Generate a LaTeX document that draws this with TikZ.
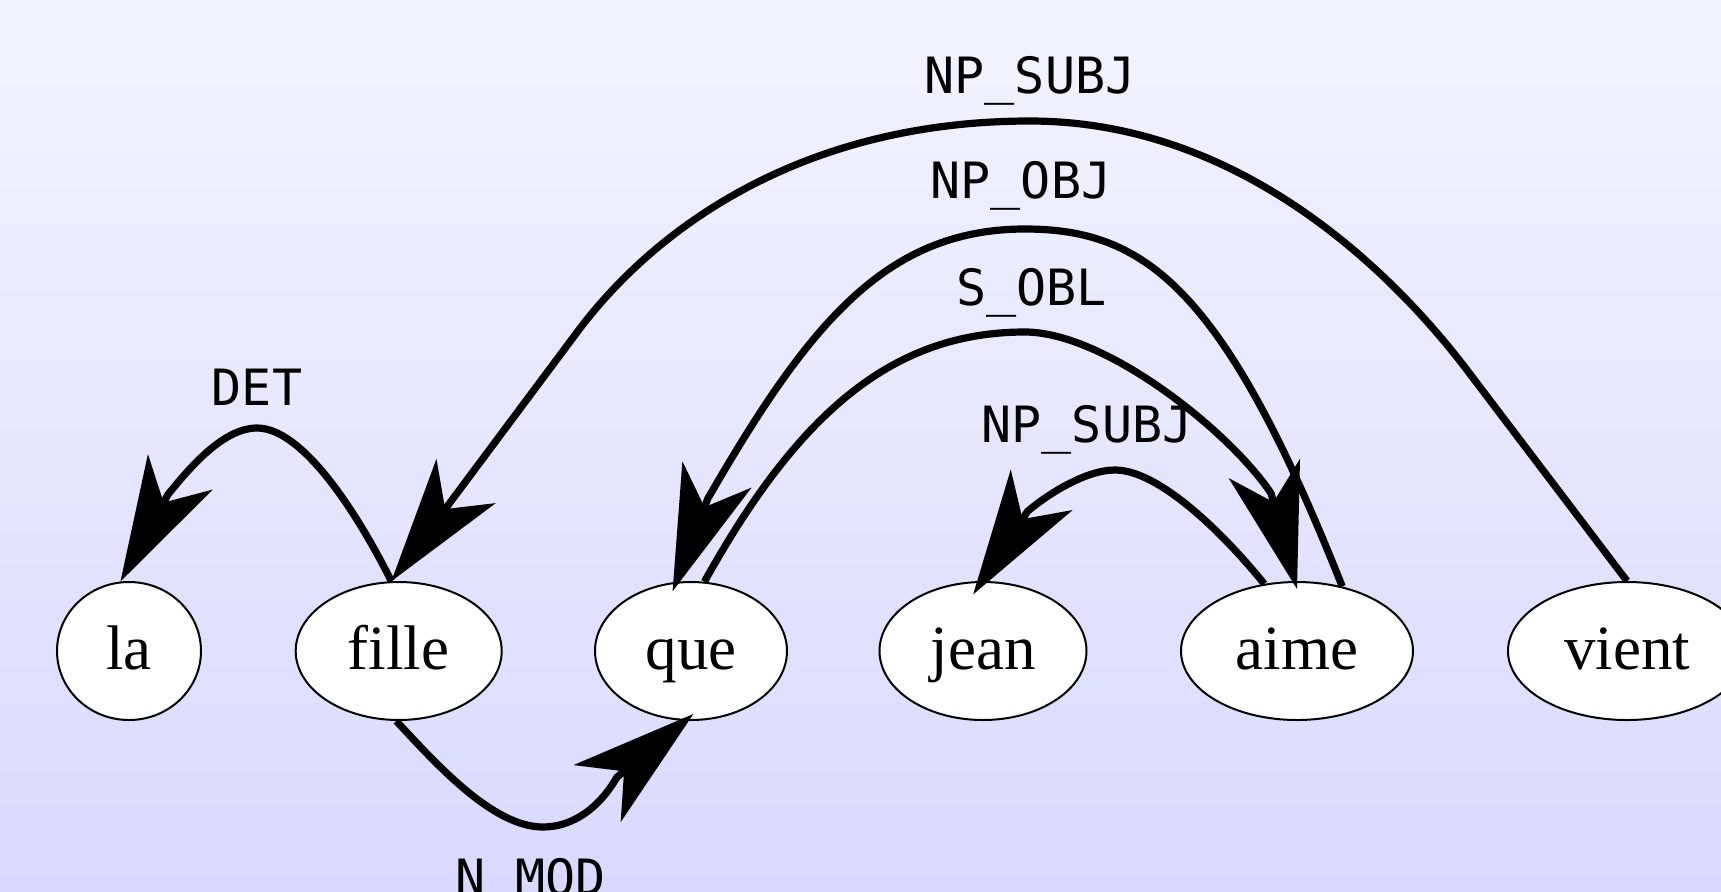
\documentclass[tikz,border=0pt]{standalone}
\usepackage{fontspec}
\setmainfont{Liberation Serif}
\newfontfamily\lblfont{DejaVu Sans Mono}
\usetikzlibrary{arrows.meta,shapes.geometric}
\definecolor{bgtop}{RGB}{243,243,255}
\definecolor{bgbot}{RGB}{217,217,255}
\begin{document}
\begin{tikzpicture}[x=0.5pt,y=-0.5pt,
  word/.style={ellipse, draw=black, line width=1pt, fill=white, inner sep=0pt,
    minimum height=69pt, font=\fontsize{31.5}{36}\selectfont,
    text height=22pt, text depth=4pt},
  edge/.style={line width=3.6pt,
    -{Stealth[length=62.5pt,width=37pt,inset=17.5pt,line width=0pt]}},
  lbl/.style={font=\lblfont\fontsize{25}{30}\selectfont, anchor=base, inner sep=0pt}]
\useasboundingbox (0,0) rectangle (1721,891);
\clip (0,0) rectangle (1721,891);
\fill[top color=bgtop, bottom color=bgbot] (0,0) rectangle (1721,891);

% words
\node[word, minimum width=72pt]    (la)    at (129,651)   {la};
\node[word, minimum width=103pt]   (fille) at (398.7,651) {fille};
\node[word, minimum width=96pt]    (que)   at (691,651)   {que};
\node[word, minimum width=103.5pt] (jean)  at (983,651)   {jean};
\node[word, minimum width=116pt]   (aime)  at (1297,651)  {aime};
\node[word, minimum width=119pt]   (vient) at (1627,651)  {vient};

% edges
\draw[edge] (fille.96) .. controls (355.6,510) and (302,428) .. (257,428)
  .. controls (222,428) and (186.9,471.2) .. (168,494.5) -- (la.97);
\draw[edge] (fille.268.5) .. controls (437,764.8) and (493,827) .. (543,827)
  .. controls (573,827) and (599.4,807.7) .. (616.8,777.3) -- ([yshift=3.5pt]que.272);
\draw[edge] (vient.north) -- (1470,374) .. controls (1404,286) and (1250,121) .. (1030,121)
  .. controls (800,121) and (652,230) .. (575,335) -- (fille.96);
\draw[edge] (aime.55) .. controls (1224,288) and (1145,229) .. (1025,229)
  .. controls (885,229) and (807.8,325.4) .. (707.8,498.6) -- ([yshift=-4.5pt]que.105);
\draw[edge] (que.79) .. controls (800,409.6) and (895,332) .. (1025,332)
  .. controls (1105,332) and (1229.5,431) .. (1271.1,493.4) -- ([yshift=-4pt]aime.north);
\draw[edge] (aime.116.6) .. controls (1225.5,536) and (1160,470) .. (1115,470)
  .. controls (1085,470) and (1046.7,495.1) .. (1027.6,511.3) -- ([yshift=-6.5pt]jean.98);

% labels
\node[lbl] (tdet)   at (257,405)    {DET};
\node[lbl] (tnmod)  at (530.5,895)  {N\_MOD};
\node[lbl] (tsubj1) at (1030,93)    {NP\_SUBJ};
\node[lbl] (tobj)   at (1021,198)   {NP\_OBJ};
\node[lbl] (tobl)   at (1031.5,305) {S\_OBL};
\node[lbl] (tsubj2) at (1087,442)   {NP\_SUBJ};
\end{tikzpicture}
\end{document}
